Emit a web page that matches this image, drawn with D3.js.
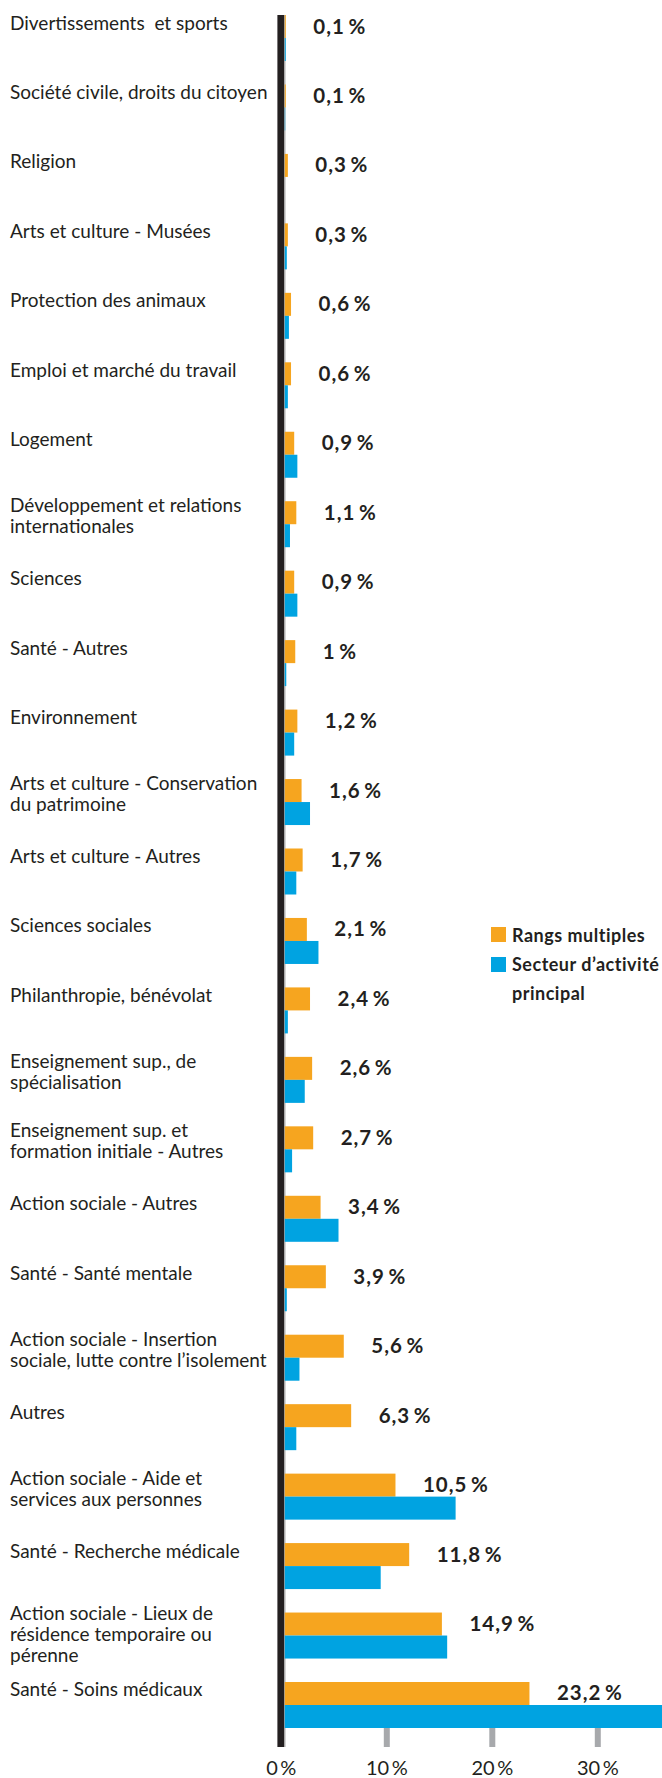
<!DOCTYPE html>
<html><head><meta charset="utf-8">
<script src="https://cdn.jsdelivr.net/npm/d3@7"></script>
<style>
body{margin:0;background:#fff}
svg{display:block}
text{font-family:Lato,"Open Sans",sans-serif;fill:#231f20}
</style>
</head><body>
<script>
const categories = [
  "Divertissements  et sports",
  "Société civile, droits du citoyen",
  "Religion",
  "Arts et culture - Musées",
  "Protection des animaux",
  "Emploi et marché du travail",
  "Logement",
  "Développement et relations\ninternationales",
  "Sciences",
  "Santé - Autres",
  "Environnement",
  "Arts et culture - Conservation\ndu patrimoine",
  "Arts et culture - Autres",
  "Sciences sociales",
  "Philanthropie, bénévolat",
  "Enseignement sup., de\nspécialisation",
  "Enseignement sup. et\nformation initiale - Autres",
  "Action sociale - Autres",
  "Santé - Santé mentale",
  "Action sociale - Insertion\nsociale, lutte contre l’isolement",
  "Autres",
  "Action sociale - Aide et\nservices aux personnes",
  "Santé - Recherche médicale",
  "Action sociale - Lieux de\nrésidence temporaire ou\npérenne",
  "Santé - Soins médicaux"
];
const rangsMultiples = [0.1,0.1,0.3,0.3,0.6,0.6,0.9,1.1,0.9,1,1.2,1.6,1.7,2.1,2.4,2.6,2.7,3.4,3.9,5.6,6.3,10.5,11.8,14.9,23.2];
const secteurPrincipal = [0.1,0.05,0,0.2,0.4,0.3,1.2,0.5,1.2,0.15,0.9,2.4,1.1,3.2,0.3,1.9,0.7,5.1,0.2,1.4,1.1,16.2,9.1,15.4,36.5];
const seriesNames = ["Rangs multiples", "Secteur d’activité principal"];
const seriesColors = ["#f6a51f", "#00a3e1"];
const tickValues = [0, 10, 20, 30];

const W = 662, H = 1778;
const svg = d3.select("body").append("svg").attr("width", W).attr("height", H);
svg.append("rect").attr("width", W).attr("height", H).attr("fill", "#fff");

const x = d3.scaleLinear().domain([0, 30]).range([280.8, 597.3]);
const y = d3.scaleBand().domain(d3.range(categories.length)).range([15, 1728]).paddingInner(0.3377).paddingOuter(0);
const ySub = d3.scaleBand().domain([0, 1]).range([0, y.bandwidth()]);
const series = [rangsMultiples, secteurPrincipal];
const fmt = v => String(v).replace(".", ",") + "\u2009%";
const axisHalf = 3.4;
const axisBottomY = 1747;

// x axis ticks
const xAxis = d3.axisBottom(x).tickValues(tickValues).tickSize(axisBottomY - y.range()[1]).tickPadding(14).tickFormat(d => d + "\u2009%");
const gx = svg.append("g").attr("transform", `translate(0,${y.range()[1]})`).call(xAxis);
gx.select(".domain").remove();
gx.selectAll(".tick line").attr("stroke", "#a7a9ac").attr("stroke-width", 6);
gx.selectAll(".tick text").attr("font-size", 20).attr("fill", "#231f20").style("font-family", "Lato, sans-serif");

// thin grey edge right of axis
svg.append("rect").attr("x", x(0) + axisHalf).attr("y", y.range()[0]).attr("width", 1.5)
  .attr("height", axisBottomY - y.range()[0]).attr("fill", "#c4c4c4");

// bars
const groups = svg.append("g").selectAll("g").data(categories).join("g")
  .attr("transform", (d, i) => `translate(0,${y(i)})`);
series.forEach((vals, s) => {
  groups.append("rect")
    .attr("x", x(0) + axisHalf + 0.5)
    .attr("y", ySub(s))
    .attr("width", (d, i) => Math.max(0, x(vals[i]) - x(0)))
    .attr("height", ySub.bandwidth())
    .attr("fill", seriesColors[s]);
});

// value labels (orange series)
groups.append("text")
  .attr("x", (d, i) => x(rangsMultiples[i]) + axisHalf + 28)
  .attr("y", 18.5)
  .attr("font-size", 20.5).attr("font-weight", 700).attr("letter-spacing", 1)
  .text((d, i) => fmt(rangsMultiples[i]));

// category labels
groups.each(function(d) {
  const lines = d.split("\n");
  const t = d3.select(this).append("text").attr("x", 10).attr("font-size", 19)
    .style("white-space", "pre");
  const first = 14.5 - (lines.length - 1) * 3.5;
  lines.forEach((l, k) => t.append("tspan").attr("x", 10).attr("y", first + k * 21).text(l));
});

// axis line
svg.append("rect").attr("x", x(0) - axisHalf).attr("y", y.range()[0]).attr("width", axisHalf * 2)
  .attr("height", axisBottomY - y.range()[0]).attr("fill", "#231f20");

// legend
const lg = svg.append("g").attr("transform", "translate(491,927)");
lg.append("rect").attr("x", 0).attr("y", 0).attr("width", 15).attr("height", 15).attr("fill", seriesColors[0]);
lg.append("rect").attr("x", 0).attr("y", 30).attr("width", 15).attr("height", 15).attr("fill", seriesColors[1]);
const legendText = (txt, yy) => lg.append("text").attr("x", 21).attr("y", yy).attr("font-size", 18)
  .attr("font-weight", 700).attr("letter-spacing", 0.5).text(txt);
legendText(seriesNames[0], 14.7);
const words = seriesNames[1].split(" ");
legendText(words.slice(0, 2).join(" "), 44);
legendText(words.slice(2).join(" "), 73);
</script>
</body></html>
